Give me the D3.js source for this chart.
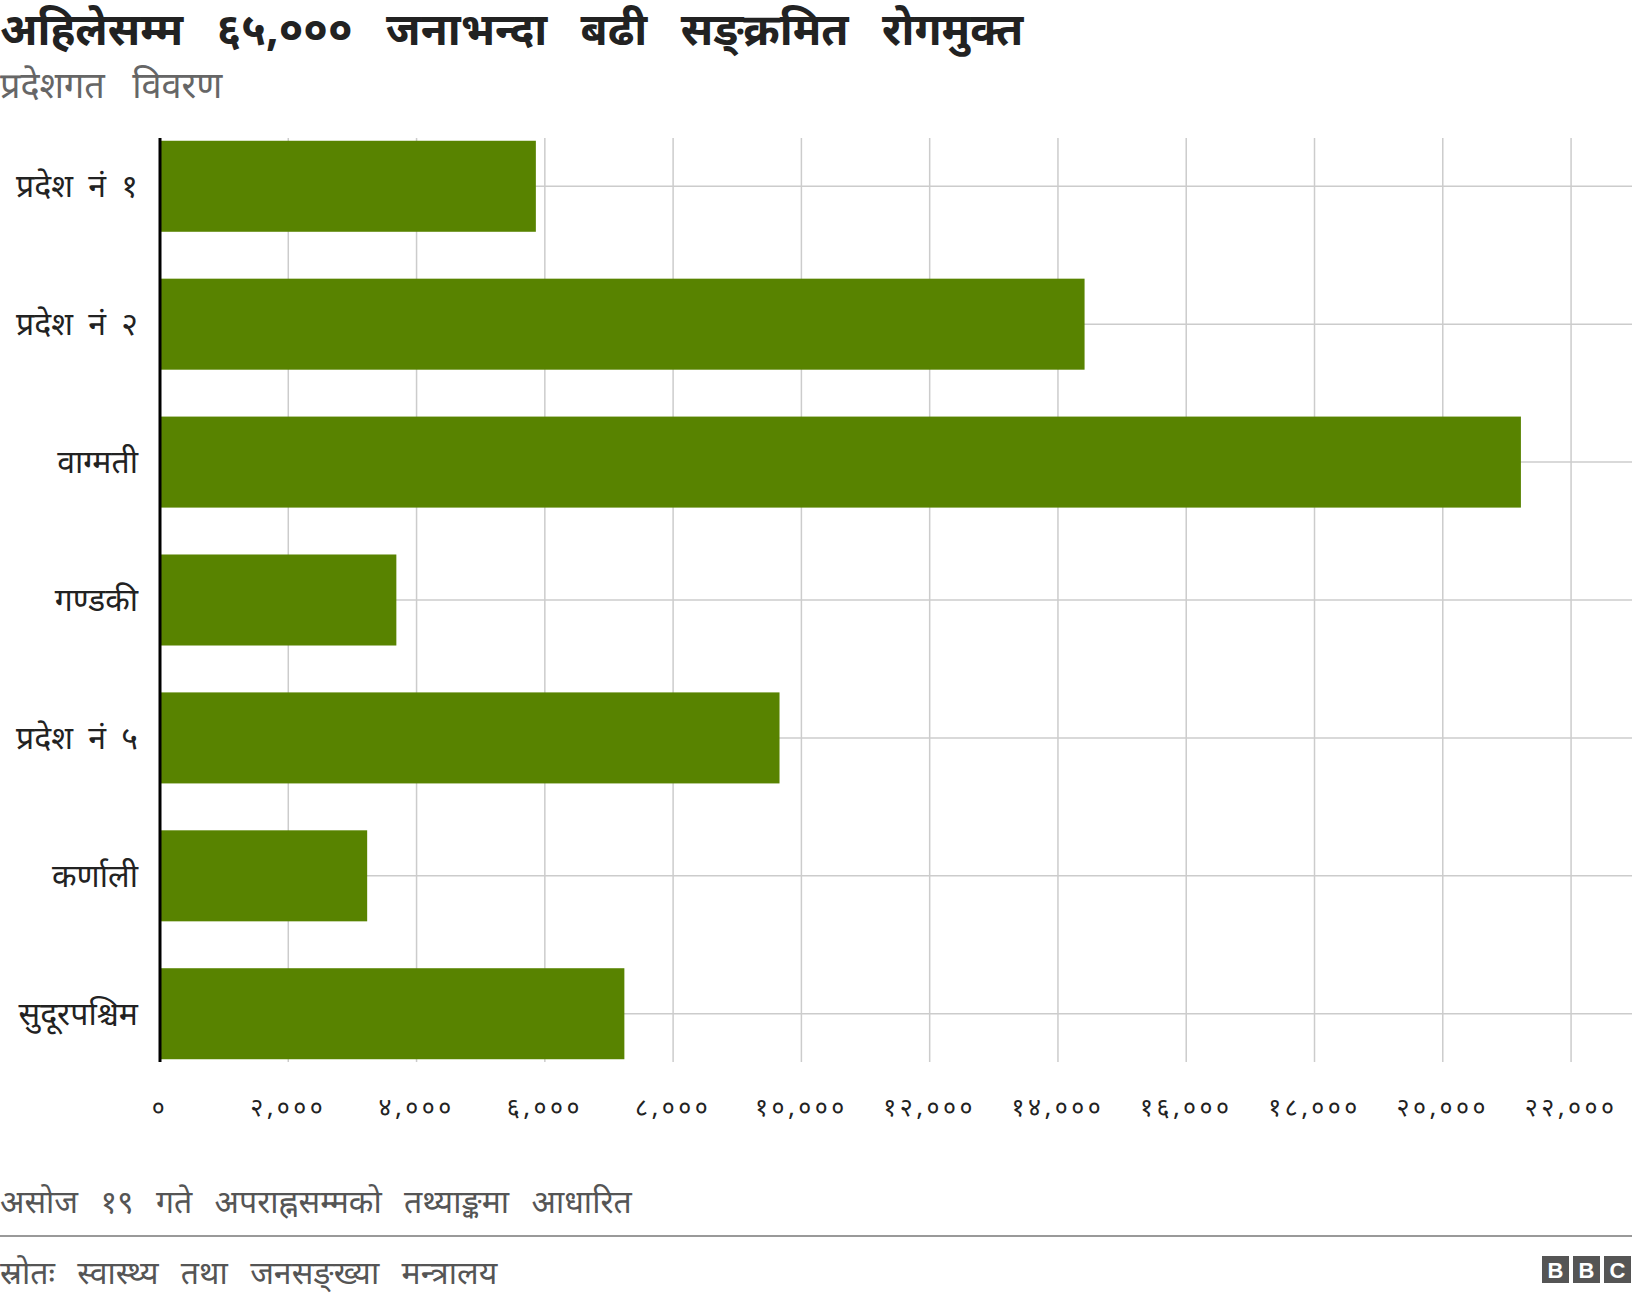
<!DOCTYPE html>
<html><head><meta charset="utf-8">
<script src="https://cdn.jsdelivr.net/npm/d3@7"></script>
<style>body{margin:0;background:#fff;font-family:"Noto Sans Devanagari","Noto Sans",sans-serif}</style>
</head><body><svg id="c" width="1632" height="1302"></svg>
<script>
const categories=["प्रदेश नं १","प्रदेश नं २","वाग्मती","गण्डकी","प्रदेश नं ५","कर्णाली","सुदूरपश्चिम"];
const values=[5860,14415,21218,3685,9659,3230,7240];
const tickValues=[0,2000,4000,6000,8000,10000,12000,14000,16000,18000,20000,22000];
const dev="०१२३४५६७८९";
const toDev=n=>d3.format(",")(n).replace(/[0-9]/g,d=>dev[d]);
const svg=d3.select("#c");
const L=160,R=1632,T=138,B=1062;
const x=d3.scaleLinear().domain([0,22950]).range([L,R]);
const y=d3.scaleBand().domain(categories).range([T,B]).paddingInner(0.34).paddingOuter(0.02);
svg.append("g").selectAll("line").data(tickValues).join("line")
 .attr("x1",d=>x(d)).attr("x2",d=>x(d)).attr("y1",T).attr("y2",B).attr("stroke","#ccc").attr("stroke-width",1.5);
svg.append("g").selectAll("line").data(categories).join("line")
 .attr("x1",L).attr("x2",R).attr("y1",d=>y(d)+y.bandwidth()/2).attr("y2",d=>y(d)+y.bandwidth()/2).attr("stroke","#ccc").attr("stroke-width",1.5);
svg.append("g").selectAll("rect").data(values).join("rect")
 .attr("x",x(0)+1).attr("y",(d,i)=>y(categories[i])).attr("width",d=>x(d)-x(0)-1).attr("height",y.bandwidth()).attr("fill","#588300");
svg.append("line").attr("x1",L).attr("x2",L).attr("y1",T).attr("y2",B).attr("stroke","#000").attr("stroke-width",3);
svg.append("g").selectAll("text").data(categories).join("text")
 .attr("x",138).attr("y",d=>y(d)+y.bandwidth()/2).attr("dy","0.35em").attr("text-anchor","end").attr("font-size",32).attr("word-spacing",7).attr("fill","#222").text(d=>d);
svg.append("g").selectAll("text").data(tickValues).join("text")
 .attr("x",d=>x(d)).attr("y",1116).attr("text-anchor","middle").attr("font-size",25).attr("letter-spacing",3.5).attr("fill","#222").text(d=>toDev(d));
function t(txt,yy,fs,ws,col,bold){svg.append("text").attr("x",0).attr("y",yy).attr("font-size",fs).attr("fill",col)
 .attr("font-weight",bold?"bold":"normal").attr("word-spacing",ws).text(txt);}
t("अहिलेसम्म ६५,००० जनाभन्दा बढी सङ्क्रमित रोगमुक्त",45,44,22,"#222",true);
t("प्रदेशगत विवरण",98,36,18,"#666");
t("असोज १९ गते अपराह्नसम्मको तथ्याङ्कमा आधारित",1213,32,14,"#555");
svg.append("line").attr("x1",0).attr("x2",1632).attr("y1",1236).attr("y2",1236).attr("stroke","#999").attr("stroke-width",2);
t("स्रोतः स्वास्थ्य तथा जनसङ्ख्या मन्त्रालय",1284,32,14,"#555");
const logo=svg.append("g").attr("transform","translate(1542,1256)");
["B","B","C"].forEach((c,i)=>{logo.append("rect").attr("x",i*31).attr("width",27).attr("height",27).attr("fill","#555");
 logo.append("text").attr("x",i*31+13.5).attr("y",22).attr("text-anchor","middle").attr("font-family","Liberation Sans").attr("font-weight","bold").attr("font-size",22).attr("fill","#fff").text(c);});
</script></body></html>
